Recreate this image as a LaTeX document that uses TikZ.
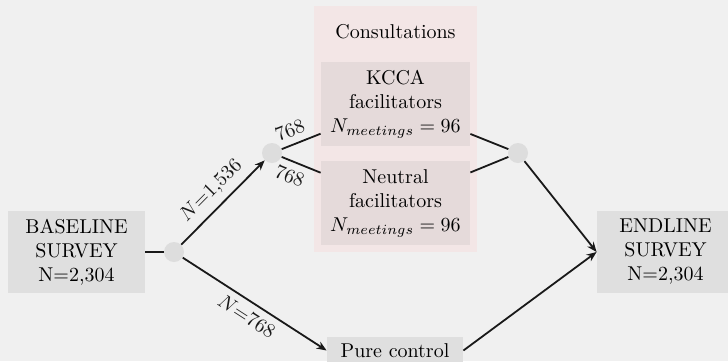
\documentclass[tikz,border=0pt]{standalone}
\usepackage{amsmath}
\usetikzlibrary{arrows.meta}
\definecolor{pagegray}{RGB}{240,240,240}
\definecolor{boxgray}{RGB}{223,223,223}
\definecolor{dotgray}{RGB}{221,221,221}
\definecolor{consultpink}{RGB}{243,230,230}
\definecolor{facilpink}{RGB}{229,218,218}
\definecolor{inkblack}{RGB}{25,25,25}

\begin{document}
\begin{tikzpicture}[x=0.5pt,y=-0.5pt,
  survey/.style={fill=boxgray,align=center,minimum width=68.5pt,minimum height=41pt,inner sep=0pt},
  facil/.style={fill=facilpink,align=center,minimum width=74.5pt,minimum height=42pt,inner sep=0pt},
  dot/.style={circle,fill=dotgray,minimum size=10pt,inner sep=0pt},
  link/.style={inkblack,line width=0.9pt},
  flow/.style={link,-{Stealth[length=5pt,width=4pt]}}]
  \clip (0,0) rectangle (728,361);
  \fill[pagegray] (0,0) rectangle (728,361);
  % consultations arm
  \node[fill=consultpink,minimum width=81.5pt,minimum height=123pt] (consult) at (395.5,129) {};
  \node (title) at (395.5,32) {Consultations};
  \node[facil] (kcca) at (395.5,104) {KCCA\\facilitators\\$N_{meetings}=96$};
  \node[facil] (neutral) at (395.5,203) {Neutral\\facilitators\\$N_{meetings}=96$};
  % surveys and control
  \node[survey] (baseline) at (76.5,252) {BASELINE\\SURVEY\\N=2,304};
  \node[survey] (endline) at (665.5,252) {ENDLINE\\SURVEY\\N=2,304};
  \node[fill=boxgray,minimum width=68pt] (control) at (395,350.5) {Pure control};
  % split and merge points
  \node[dot] (split) at (174,252) {};
  \node[dot] (treat) at (272,153) {};
  \node[dot] (merge) at (518,153) {};
  \draw[link] (baseline) -- (split);
  \draw[flow] (split) -- node[sloped,above] {$N$=1,536} (treat);
  \draw[flow] (split) -- node[sloped,below] {$N$=768} (control.west);
  \draw[link] (treat) -- node[sloped,above,pos=0.35] {768} (kcca);
  \draw[link] (treat) -- node[sloped,below,pos=0.35] {768} (neutral);
  \draw[link] (kcca) -- (merge);
  \draw[link] (neutral) -- (merge);
  \draw[flow] (merge) -- (endline.west);
  \draw[flow] (control.east) -- (endline.west);
\end{tikzpicture}
\end{document}
